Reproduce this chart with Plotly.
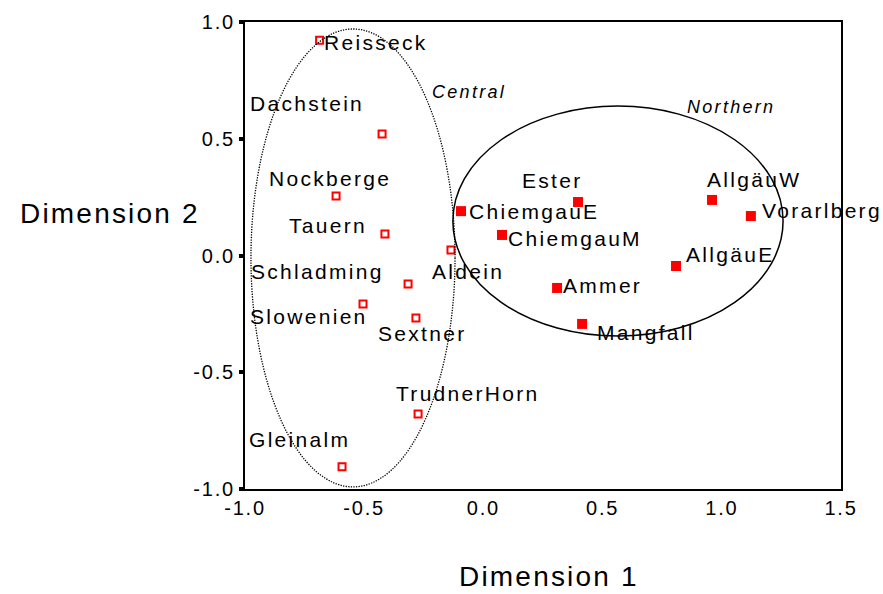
import plotly.graph_objects as go

# ---- data ----
central_sites = ["Reisseck", "Dachstein", "Nockberge", "Tauern", "Aldein",
                 "Schladming", "Slowenien", "Sextner", "TrudnerHorn", "Gleinalm"]
central_x = [-0.687, -0.425, -0.618, -0.413, -0.136, -0.316, -0.505, -0.283, -0.274, -0.593]
central_y = [0.922, 0.520, 0.255, 0.092, 0.024, -0.122, -0.208, -0.268, -0.679, -0.905]

northern_sites = ["ChiemgauE", "ChiemgauM", "Ester", "Ammer", "Mangfall",
                  "AllgäuE", "AllgäuW", "Vorarlberg"]
northern_x = [-0.094, 0.078, 0.397, 0.309, 0.414, 0.808, 0.959, 1.122]
northern_y = [0.190, 0.088, 0.229, -0.139, -0.293, -0.045, 0.238, 0.169]

x_ticks = [-1.0, -0.5, 0.0, 0.5, 1.0, 1.5]
x_tick_labels = ["-1.0", "-0.5", "0.0", "0.5", "1.0", "1.5"]
y_ticks = [-1.0, -0.5, 0.0, 0.5, 1.0]
y_tick_labels = ["-1.0", "-0.5", "0.0", "0.5", "1.0"]

# group ellipses (x0, x1, y0, y1)
central_ellipse = [-0.975, -0.119, -0.991, 0.970]
northern_ellipse = [-0.128, 1.257, -0.345, 0.640]
group_names = ["Central", "Northern"]
group_label_x = [-0.060, 1.039]
group_label_y = [0.700, 0.636]

# ---- label placement (anchor, x offset px, y offset px downward) ----
label_place = {
    "Reisseck": ("left", 4, 2),
    "Dachstein": ("left", -132, -31),
    "Nockberge": ("center", -6, -17),
    "Tauern": ("right", -18, -9),
    "Aldein": ("left", -19, 22),
    "Schladming": ("right", -24, -12),
    "Slowenien": ("left", -113, 12),
    "Sextner": ("left", -38, 15),
    "TrudnerHorn": ("left", -22, -21),
    "Gleinalm": ("left", -93, -27),
    "ChiemgauE": ("left", 8, 0),
    "ChiemgauM": ("left", 6, 4),
    "Ester": ("right", 5, -22),
    "Ammer": ("left", 6, -2),
    "Mangfall": ("left", 15, 9),
    "AllgäuE": ("left", 10, -12),
    "AllgäuW": ("left", -5, -20),
    "Vorarlberg": ("left", 11, -6),
}

FONT = "Liberation Sans, Arial, sans-serif"


def spaced(t, s):
    return '<span style="letter-spacing:%spx">%s</span>' % (s, t)


fig = go.Figure()
fig.add_trace(go.Scatter(
    x=central_x, y=central_y, mode="markers", text=central_sites,
    marker=dict(symbol="square-open", size=7, color="#ff0000",
                line=dict(width=2, color="#ff0000")),
    showlegend=False, hoverinfo="text"))
fig.add_trace(go.Scatter(
    x=northern_x, y=northern_y, mode="markers", text=northern_sites,
    marker=dict(symbol="square", size=10, color="#ff0000", line=dict(width=0)),
    showlegend=False, hoverinfo="text"))

annotations = []
for names, xs, ys in [(central_sites, central_x, central_y),
                      (northern_sites, northern_x, northern_y)]:
    for n, x, y in zip(names, xs, ys):
        anc, dx, dy = label_place[n]
        annotations.append(dict(
            x=x, y=y, xref="x", yref="y", text=spaced(n, 2.3),
            showarrow=False, xanchor=anc, yanchor="middle",
            xshift=dx, yshift=-dy, borderpad=0, borderwidth=0,
            font=dict(family=FONT, size=21, color="black")))

for g, gx, gy in zip(group_names, group_label_x, group_label_y):
    annotations.append(dict(
        x=gx, y=gy, xref="x", yref="y", text="<i>" + spaced(g, 2.3) + "</i>",
        showarrow=False, xanchor="center", yanchor="middle",
        borderpad=0, borderwidth=0,
        font=dict(family=FONT, size=18, color="black")))

# axis titles
annotations.append(dict(
    x=-0.0755, y=0.591, xref="paper", yref="paper", text=spaced("Dimension 2", 2.2),
    showarrow=False, xanchor="right", yanchor="middle", borderpad=0, borderwidth=0,
    font=dict(family=FONT, size=28, color="black")))
annotations.append(dict(
    x=0.510, y=-0.187, xref="paper", yref="paper", text=spaced("Dimension 1", 2.2),
    showarrow=False, xanchor="center", yanchor="middle", borderpad=0, borderwidth=0,
    font=dict(family=FONT, size=28, color="black")))

shapes = [
    dict(type="circle", xref="x", yref="y",
         x0=central_ellipse[0], x1=central_ellipse[1],
         y0=central_ellipse[2], y1=central_ellipse[3],
         line=dict(color="black", width=1.3, dash="1.3px,1.3px")),
    dict(type="circle", xref="x", yref="y",
         x0=northern_ellipse[0], x1=northern_ellipse[1],
         y0=northern_ellipse[2], y1=northern_ellipse[3],
         line=dict(color="black", width=1.5)),
]

fig.update_layout(
    width=883, height=594,
    margin=dict(l=245, r=42, t=22, b=105),
    paper_bgcolor="white", plot_bgcolor="white",
    annotations=annotations, shapes=shapes,
    font=dict(family=FONT, size=20, color="black"),
    xaxis=dict(range=[-1.0, 1.5], tickvals=x_ticks,
               ticktext=[spaced(t, 1.8) for t in x_tick_labels],
               ticks="", showgrid=False, zeroline=False,
               showline=True, linecolor="black", linewidth=2, mirror=True,
               tickfont=dict(family=FONT, size=20, color="black")),
    yaxis=dict(range=[-1.0, 1.0], tickvals=y_ticks,
               ticktext=[spaced(t, 1.8) for t in y_tick_labels],
               ticks="outside", ticklen=4, tickwidth=4, tickcolor="black",
               showgrid=False, zeroline=False,
               showline=True, linecolor="black", linewidth=2, mirror=True,
               tickfont=dict(family=FONT, size=20, color="black")),
)

fig.write_html("out.html")
